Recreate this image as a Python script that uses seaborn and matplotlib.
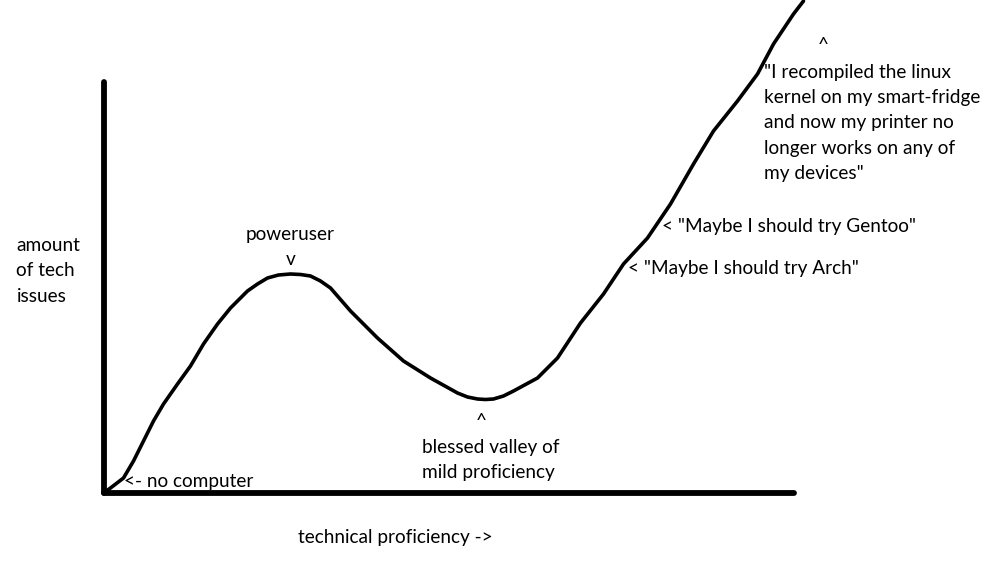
import matplotlib
matplotlib.use("Agg")
import matplotlib.pyplot as plt
import seaborn as sns

# curve (origin = axis corner)
proficiency = [0, 7, 20, 30, 40, 50, 60, 74, 87, 100, 114, 127, 144, 154, 164, 175, 187,
               197, 207, 217, 227, 247, 274, 300, 327, 354, 364, 374, 382, 390, 400, 410,
               434, 454, 477, 500, 520, 544, 567, 590, 610, 634, 654, 670, 690, 700]
tech_issues = [0, 5, 15, 32, 52, 72, 89, 109, 127, 149, 169, 185, 202, 209, 215, 218, 219,
               218.5, 217, 212, 205, 182, 155, 132, 115, 100, 96, 94, 93.5, 94, 97, 102,
               115, 135, 170, 199, 229, 255, 289, 329, 362, 392, 419, 449, 479, 492]

x_label = "technical proficiency ->"
y_label = "amount\nof tech\nissues"
notes = ["<- no computer", "poweruser\nv", "blessed valley of\nmild proficiency",
         '< "Maybe I should try Arch"', '< "Maybe I should try Gentoo"',
         '"I recompiled the linux\nkernel on my smart-fridge\nand now my printer no\n'
         'longer works on any of\nmy devices"']

sns.set_theme(style="white")
plt.rcParams["font.family"] = ["Lato", "DejaVu Sans"]
fs = 13.7
ls = 1.6

fig = plt.figure(figsize=(9.93, 5.74), dpi=100)
ax = fig.add_axes([103.5 / 993, (574 - 493) / 574, 690 / 993, 411 / 574])
sns.lineplot(x=proficiency, y=tech_issues, sort=False, color="black", lw=2.6,
             ax=ax, clip_on=False, solid_joinstyle="round", solid_capstyle="round")
ax.set_xlim(0, 690)
ax.set_ylim(0, 411)
for s in ["top", "right"]:
    ax.spines[s].set_visible(False)
for s in ["left", "bottom"]:
    ax.spines[s].set_linewidth(4.2)
    ax.spines[s].set_color("black")
    ax.spines[s].set_capstyle("round")
ax.set_xticks([])
ax.set_yticks([])
ax.patch.set_alpha(0)

kw = dict(fontsize=fs, color="black", clip_on=False)
ax.text(-87, 222, y_label, ha="left", va="center", linespacing=ls, **kw)
ax.text(194, -45, x_label, ha="left", va="center", **kw)
ax.text(20, 11, notes[0], ha="left", va="center", **kw)
ax.text(187, 246, notes[1], ha="center", va="center", linespacing=ls, **kw)
ax.text(378, 71, "^", ha="center", va="center", **kw)
ax.text(318, 33, notes[2], ha="left", va="center", linespacing=ls, **kw)
ax.text(524, 224, notes[3], ha="left", va="center", **kw)
ax.text(558, 266, notes[4], ha="left", va="center", **kw)
ax.text(720, 447, "^", ha="center", va="center", **kw)
ax.text(660, 370, notes[5], ha="left", va="center", linespacing=ls, **kw)

fig.savefig("out.png", dpi=100, facecolor="white")
